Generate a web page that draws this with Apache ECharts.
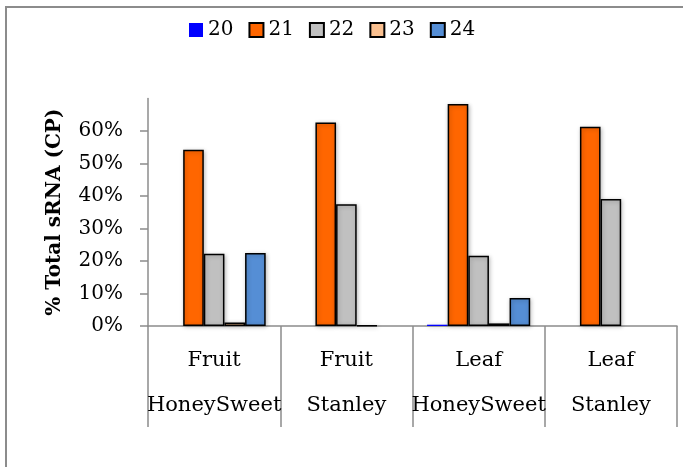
<!DOCTYPE html>
<html><head><meta charset="utf-8">
<script src="https://cdn.jsdelivr.net/npm/echarts@6/dist/echarts.min.js"></script>
<style>html,body{margin:0;padding:0;background:#fff}#c{width:683px;height:467px}</style>
</head><body><div id="c"></div>
<script>
const categories = ['Fruit\nHoneySweet', 'Fruit\nStanley', 'Leaf\nHoneySweet', 'Leaf\nStanley'];
const seriesNames = ['20', '21', '22', '23', '24'];
const s20 = [null, null, 0.4, null];
const s21 = [54.2, 62.6, 68.3, 61.3];
const s22 = [22.2, 37.5, 21.6, 39.1];
const s23 = [1.1, 0.2, 0.8, null];
const s24 = [22.5, null, 8.6, null];
const yTicks = [0, 10, 20, 30, 40, 50, 60];

const colors = ['#0000FF', '#FF6600', '#C0C0C0', '#FAC090', '#558ED5'];
const data = [s20, s21, s22, s23, s24];
const font = 'DejaVu Serif';

const chart = echarts.init(document.getElementById('c'), null, {renderer: 'canvas'});
chart.setOption({
  animation: false,
  backgroundColor: '#fff',
  graphic: [{
    type: 'rect', shape: {x: 6, y: 7, width: 700, height: 500},
    style: {fill: 'none', stroke: '#8c8c8c', lineWidth: 2}, z: -1, silent: true
  }],
  legend: {
    left: 184, top: 15, itemWidth: 14, itemHeight: 14, itemGap: 15,
    icon: 'rect',
    textStyle: {fontFamily: font, fontSize: 20, color: '#000'},
    data: seriesNames
  },
  grid: {left: 148, right: 6, top: 98.5, bottom: 141, containLabel: false},
  xAxis: {
    type: 'category', data: categories,
    axisLine: {lineStyle: {color: '#8c8c8c', width: 1.5}},
    axisTick: {show: true, length: 101, lineStyle: {color: '#8c8c8c', width: 1.5}},
    axisLabel: {interval: 0, fontFamily: font, fontSize: 21, color: '#000', lineHeight: 45, margin: 12}
  },
  yAxis: {
    type: 'value', min: 0, max: 70, interval: 10,
    name: '% Total sRNA (CP)', nameLocation: 'middle', nameGap: 83,
    nameTextStyle: {fontFamily: font, fontSize: 20, fontWeight: 'bold', color: '#000'},
    axisLine: {show: true, lineStyle: {color: '#8c8c8c', width: 1.5}},
    axisTick: {show: true, length: 8, customValues: yTicks, lineStyle: {color: '#8c8c8c', width: 1.5}},
    axisLabel: {customValues: yTicks, formatter: '{value}%', fontFamily: font, fontSize: 20, color: '#000', margin: 25},
    splitLine: {show: false}
  },
  series: seriesNames.map((n, i) => ({
    name: n, type: 'bar', data: data[i],
    barGap: '0%', barCategoryGap: '22%',
    itemStyle: {
      color: colors[i],
      borderColor: i === 0 ? colors[i] : '#000',
      borderWidth: i === 0 ? 0 : 1.5,
      shadowColor: 'rgba(0,0,0,0.25)', shadowBlur: 4, shadowOffsetX: 1, shadowOffsetY: 1
    }
  }))
});
</script></body></html>
